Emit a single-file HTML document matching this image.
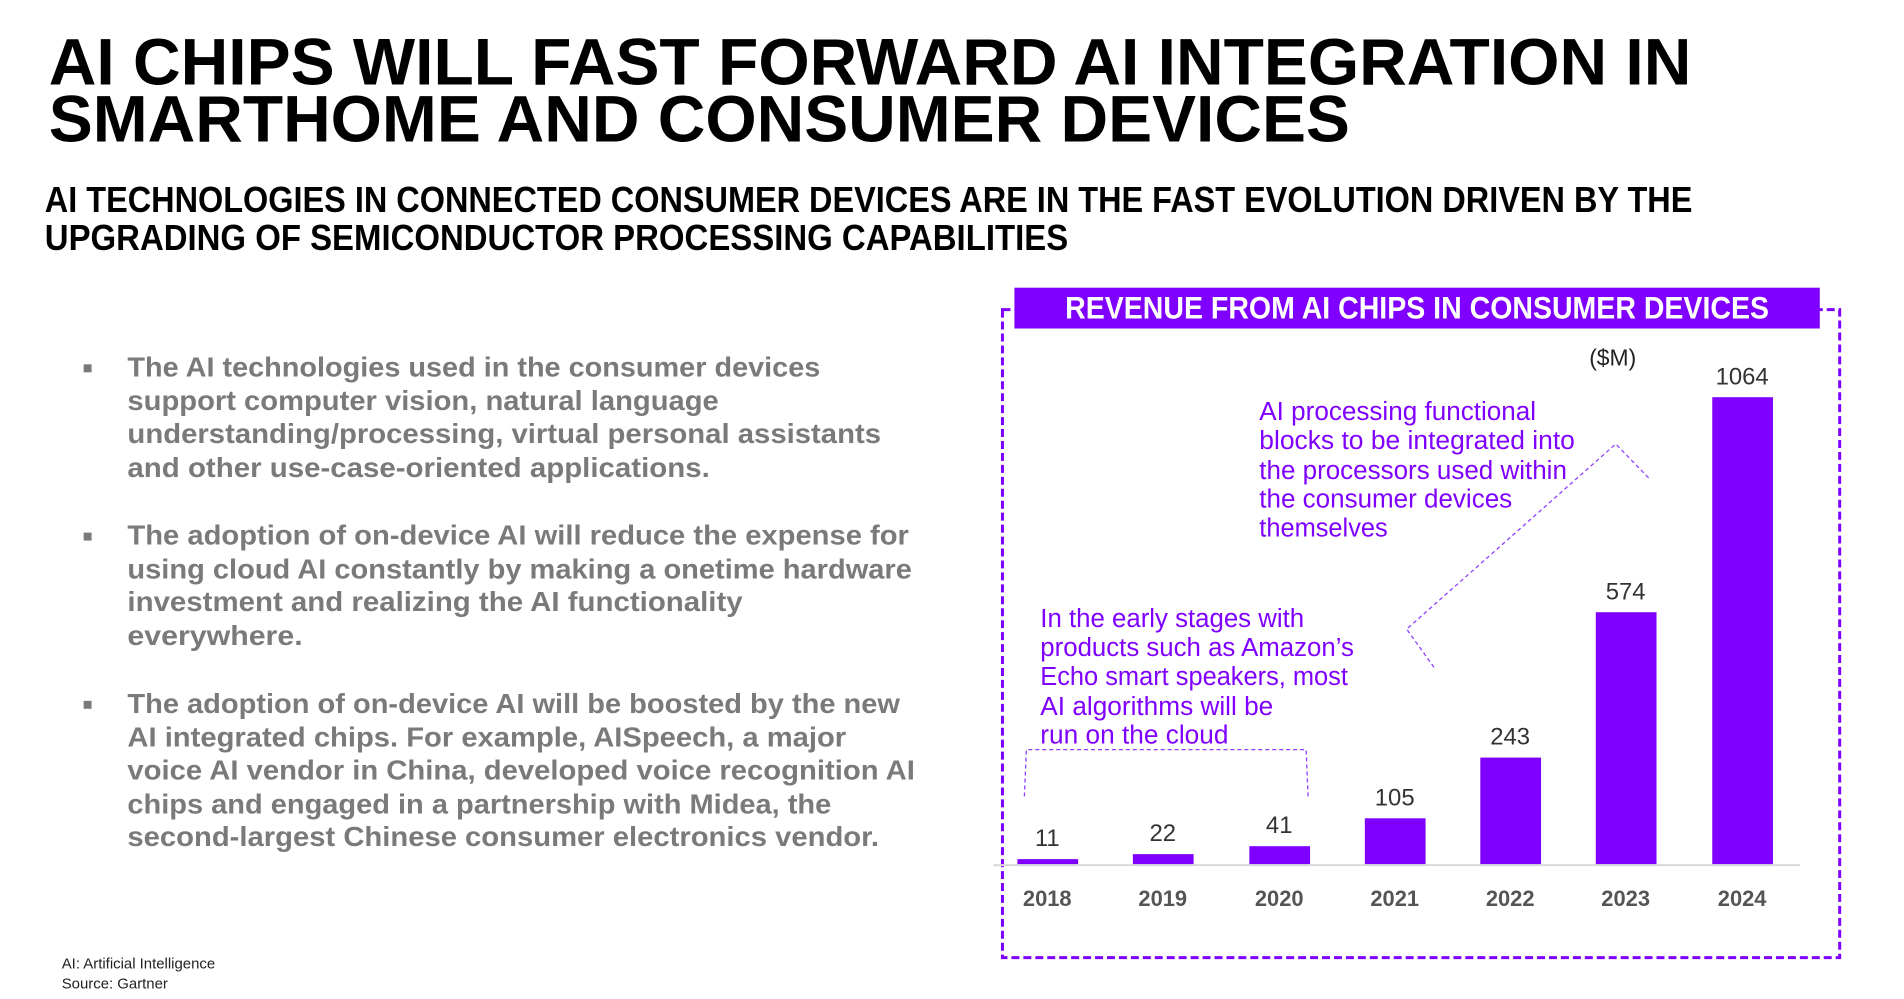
<!DOCTYPE html>
<html><head><meta charset="utf-8"><style>
html,body{margin:0;padding:0;background:#fff;width:1904px;height:999px;overflow:hidden}
svg{display:block}
text{font-family:"Liberation Sans",sans-serif}
</style></head><body>
<svg width="1904" height="999" viewBox="0 0 1904 999" xmlns="http://www.w3.org/2000/svg">
<g transform="scale(0.9955)">
<g font-weight="bold" fill="#000">
<text x="49" y="85" font-size="66" textLength="1650" lengthAdjust="spacingAndGlyphs">AI CHIPS WILL FAST FORWARD AI INTEGRATION IN</text>
<text x="49" y="142" font-size="66" textLength="1307" lengthAdjust="spacingAndGlyphs">SMARTHOME AND CONSUMER DEVICES</text>
<text x="45" y="213" font-size="36" textLength="1655" lengthAdjust="spacingAndGlyphs">AI TECHNOLOGIES IN CONNECTED CONSUMER DEVICES ARE IN THE FAST EVOLUTION DRIVEN BY THE</text>
<text x="45" y="251" font-size="36" textLength="1028" lengthAdjust="spacingAndGlyphs">UPGRADING OF SEMICONDUCTOR PROCESSING CAPABILITIES</text>
</g>
<g fill="#7a7a7a">
<rect x="84" y="366" width="8" height="8"/>
<rect x="84" y="535" width="8" height="8"/>
<rect x="84" y="704" width="8" height="8"/>
</g>
<g font-weight="bold" fill="#7a7a7a" font-size="28">
<text x="128" y="378" textLength="696" lengthAdjust="spacingAndGlyphs">The AI technologies used in the consumer devices</text>
<text x="128" y="412" textLength="594" lengthAdjust="spacingAndGlyphs">support computer vision, natural language</text>
<text x="128" y="445" textLength="757" lengthAdjust="spacingAndGlyphs">understanding/processing, virtual personal assistants</text>
<text x="128" y="479" textLength="585" lengthAdjust="spacingAndGlyphs">and other use-case-oriented applications.</text>
<text x="128" y="547" textLength="785" lengthAdjust="spacingAndGlyphs">The adoption of on-device AI will reduce the expense for</text>
<text x="128" y="581" textLength="788" lengthAdjust="spacingAndGlyphs">using cloud AI constantly by making a onetime hardware</text>
<text x="128" y="614" textLength="618" lengthAdjust="spacingAndGlyphs">investment and realizing the AI functionality</text>
<text x="128" y="648" textLength="176" lengthAdjust="spacingAndGlyphs">everywhere.</text>
<text x="128" y="716" textLength="776" lengthAdjust="spacingAndGlyphs">The adoption of on-device AI will be boosted by the new</text>
<text x="128" y="750" textLength="722" lengthAdjust="spacingAndGlyphs">AI integrated chips. For example, AISpeech, a major</text>
<text x="128" y="783" textLength="791" lengthAdjust="spacingAndGlyphs">voice AI vendor in China, developed voice recognition AI</text>
<text x="128" y="817" textLength="707" lengthAdjust="spacingAndGlyphs">chips and engaged in a partnership with Midea, the</text>
<text x="128" y="850" textLength="755" lengthAdjust="spacingAndGlyphs">second-largest Chinese consumer electronics vendor.</text>
</g>
<text x="62" y="973" font-size="15" fill="#222">AI: Artificial Intelligence</text>
<text x="62" y="993" font-size="15" fill="#222">Source: Gartner</text>

<rect x="1007" y="311" width="841" height="651" fill="none" stroke="#7f00ff" stroke-width="3" stroke-dasharray="8 4"/>
<rect x="1019" y="289" width="809" height="41" fill="#7f00ff"/>
<text x="1070" y="320" font-size="32" font-weight="bold" fill="#fff" textLength="707" lengthAdjust="spacingAndGlyphs">REVENUE FROM AI CHIPS IN CONSUMER DEVICES</text>
<text x="1620" y="367" font-size="23" fill="#222" text-anchor="middle">($M)</text>

<line x1="998" y1="869" x2="1808" y2="869" stroke="#d9d9d9" stroke-width="2"/>
<g fill="#7f00ff">
<rect x="1022" y="863" width="61" height="5"/>
<rect x="1138" y="858" width="61" height="10"/>
<rect x="1255" y="850" width="61" height="18"/>
<rect x="1371" y="822" width="61" height="46"/>
<rect x="1487" y="761" width="61" height="107"/>
<rect x="1603" y="615" width="61" height="253"/>
<rect x="1720" y="399" width="61" height="469"/>
</g>
<g font-size="24" fill="#333" text-anchor="middle">
<text x="1052" y="850">11</text>
<text x="1168" y="845">22</text>
<text x="1285" y="837">41</text>
<text x="1401" y="809">105</text>
<text x="1517" y="748">243</text>
<text x="1633" y="602">574</text>
<text x="1750" y="386">1064</text>
</g>
<g font-size="22" font-weight="bold" fill="#555" text-anchor="middle">
<text x="1052" y="910">2018</text>
<text x="1168" y="910">2019</text>
<text x="1285" y="910">2020</text>
<text x="1401" y="910">2021</text>
<text x="1517" y="910">2022</text>
<text x="1633" y="910">2023</text>
<text x="1750" y="910">2024</text>
</g>
<g font-size="26" fill="#7f00ff">
<text x="1265" y="422" textLength="278" lengthAdjust="spacingAndGlyphs">AI processing functional</text>
<text x="1265" y="451" textLength="317" lengthAdjust="spacingAndGlyphs">blocks to be integrated into</text>
<text x="1265" y="481" textLength="309" lengthAdjust="spacingAndGlyphs">the processors used within</text>
<text x="1265" y="510" textLength="254" lengthAdjust="spacingAndGlyphs">the consumer devices</text>
<text x="1265" y="539" textLength="129" lengthAdjust="spacingAndGlyphs">themselves</text>
<text x="1045" y="630" textLength="265" lengthAdjust="spacingAndGlyphs">In the early stages with</text>
<text x="1045" y="659" textLength="315" lengthAdjust="spacingAndGlyphs">products such as Amazon’s</text>
<text x="1045" y="688" textLength="309" lengthAdjust="spacingAndGlyphs">Echo smart speakers, most</text>
<text x="1045" y="718" textLength="234" lengthAdjust="spacingAndGlyphs">AI algorithms will be</text>
<text x="1045" y="747" textLength="189" lengthAdjust="spacingAndGlyphs">run on the cloud</text>
</g>
<g fill="none" stroke="#8f3fff" stroke-width="1.3" stroke-dasharray="4 3">
<polyline points="1029,800 1031,753 1312,753 1314,800"/>
<polyline points="1656,480 1623,446 1413,632 1441,671"/>
</g>
</g>
</svg>
</body></html>
